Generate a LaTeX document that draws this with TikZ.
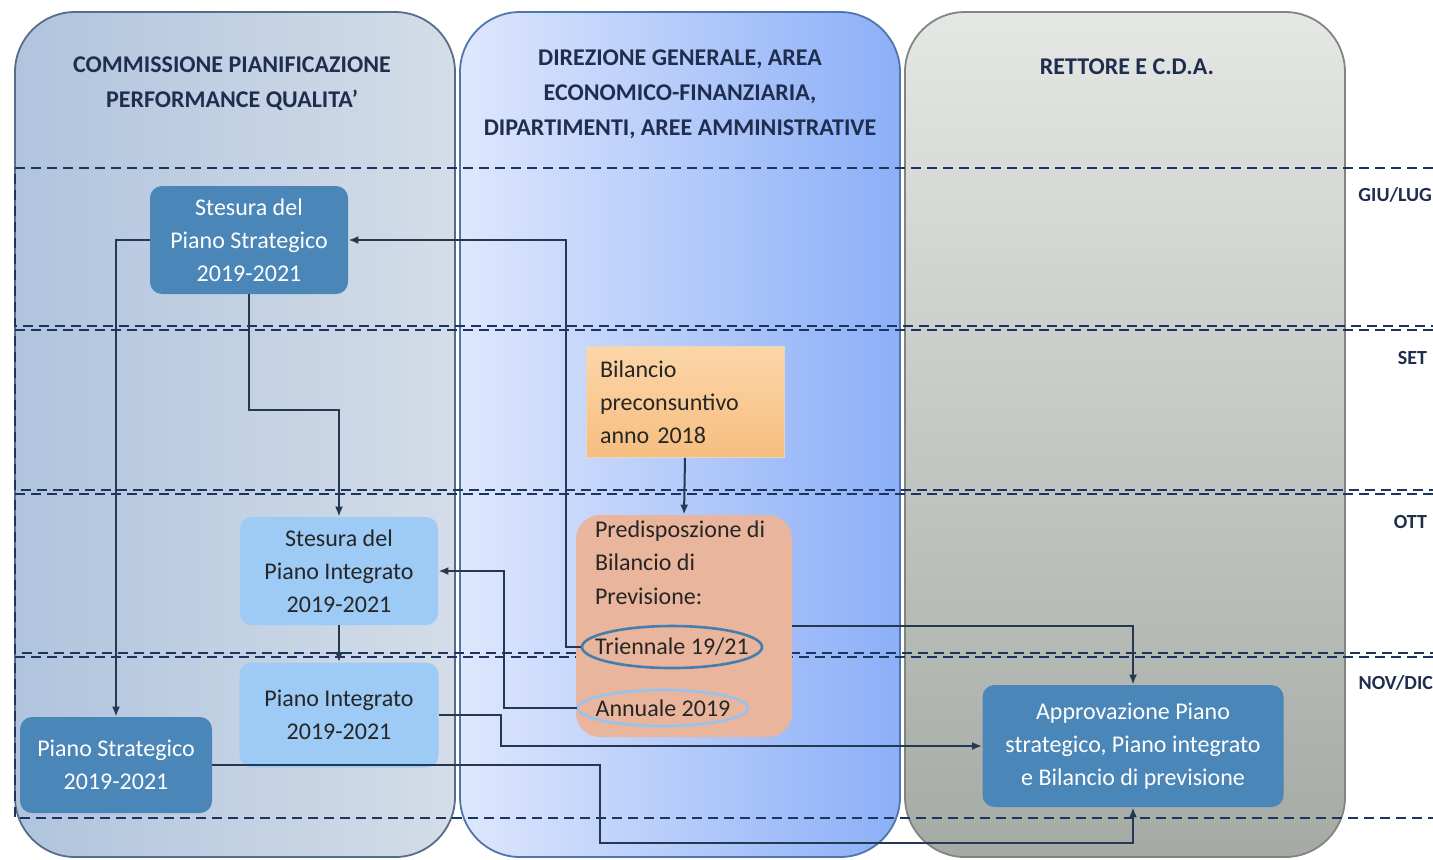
\documentclass[tikz,border=0pt]{standalone}
\usepackage{fontspec}
\setmainfont{Carlito}
\usepackage{tikz}
\usetikzlibrary{shapes,arrows.meta,positioning,calc}
\definecolor{headnavy}{RGB}{31,45,78}
\definecolor{dashnavy}{RGB}{30,52,96}
\definecolor{connnavy}{RGB}{36,56,82}
\definecolor{stratblue}{RGB}{74,134,184}
\definecolor{paleblue}{RGB}{157,203,245}
\definecolor{salmon}{RGB}{234,181,157}
\definecolor{orangetop}{RGB}{252,214,168}
\definecolor{orangebot}{RGB}{246,190,128}
\definecolor{textdark}{RGB}{38,38,38}
\definecolor{laneAleft}{RGB}{176,196,222}
\definecolor{laneAright}{RGB}{212,221,232}
\definecolor{laneBleft}{RGB}{222,231,252}
\definecolor{laneBright}{RGB}{140,175,248}
\definecolor{laneCtop}{RGB}{228,231,228}
\definecolor{laneCbot}{RGB}{165,170,165}
\newcommand{\boxfont}{\fontsize{12}{16.6}\selectfont}

\begin{document}
\begin{tikzpicture}[
    x=0.5pt, y=-0.5pt,
    lane/.style={rounded corners=30pt, line width=0.9pt},
    lanehead/.style={align=center, text=headnavy, font=\fontsize{12}{17.5}\selectfont\bfseries},
    band/.style={dash pattern=on 5pt off 3pt, line width=1pt, draw=dashnavy},
    month/.style={anchor=east, text=headnavy, font=\fontsize{10}{12}\selectfont\bfseries},
    darkbox/.style={rectangle, rounded corners=6pt, fill=stratblue, text=white, align=center, font=\boxfont},
    lightbox/.style={rectangle, rounded corners=6pt, fill=paleblue, text=textdark, align=center, font=\boxfont},
    ring/.style={ellipse, draw, line width=1.3pt, inner sep=0pt, text=textdark, font=\boxfont},
    conn/.style={draw=connnavy, line width=1pt, -{Latex[length=5pt,width=4pt]}}
]
    \useasboundingbox (0,0) rectangle (1433,859);

    % Swimlanes
    \path[lane, draw={rgb,255:red,88;green,108;blue,138}, left color=laneAleft, right color=laneAright] (15,12) rectangle (455,857);
    \path[lane, draw={rgb,255:red,78;green,118;blue,170}, left color=laneBleft, right color=laneBright] (460,12) rectangle (900,857);
    \path[lane, draw={rgb,255:red,128;green,133;blue,128}, top color=laneCtop, bottom color=laneCbot] (905,12) rectangle (1345,857);

    \node[lanehead] (headA) at (232,84) {COMMISSIONE PIANIFICAZIONE\\PERFORMANCE QUALITA'};
    \node[lanehead] (headB) at (680,94) {DIREZIONE GENERALE, AREA\\ECONOMICO-FINANZIARIA,\\DIPARTIMENTI, AREE AMMINISTRATIVE};
    \node[lanehead] (headC) at (1127,67) {RETTORE E C.D.A.};

    % Time bands
    \draw[band] (1433,168) -- (15,168) -- (15,326) -- (1433,326);
    \draw[band] (1433,330) -- (15,330) -- (15,490) -- (1433,490);
    \draw[band] (1433,494) -- (15,494) -- (15,653) -- (1433,653);
    \draw[band] (1433,657) -- (15,657) -- (15,818) -- (1433,818);

    \node[month] (giulug) at (1439,195) {GIU/LUG};
    \node[month] (set) at (1434,358) {SET};
    \node[month] (ott) at (1434,522) {OTT};
    \node[month] (novdic) at (1440,683) {NOV/DIC};

    % Commissione
    \node[darkbox, minimum width=99pt, minimum height=54pt] (sps) at (249,240) {Stesura del\\Piano Strategico\\2019-2021};
    \node[lightbox, minimum width=99pt, minimum height=54pt] (spi) at (339,571) {Stesura del\\Piano Integrato\\2019-2021};
    \node[lightbox, minimum width=99.5pt, minimum height=52.5pt] (pi) at (339,715) {Piano Integrato\\2019-2021};
    \node[darkbox, minimum width=96pt, minimum height=48pt] (ps) at (116,765) {Piano Strategico\\2019-2021};

    % Direzione generale
    \node[rectangle, draw=orangebot!80!black!40, top color=orangetop, bottom color=orangebot, text=textdark,
          align=left, font=\boxfont, text width=85pt, inner xsep=7pt, minimum height=55.5pt] (bpc) at (685,402) {Bilancio\\preconsuntivo\\anno 2018};
    \node[rectangle, rounded corners=12pt, fill=salmon, minimum width=108pt, minimum height=111pt] (pbp) at (684,626) {};
    \node[anchor=north west, align=left, font=\boxfont, text=textdark] (pbptxt) at (588,514) {Predisposzione di\\Bilancio di\\Previsione:};
    \node[ring, draw={rgb,255:red,70;green,125;blue,175}, minimum width=90pt, minimum height=21pt] (trien) at (672,647) {\makebox[0pt]{Triennale 19/21}};
    \node[ring, draw={rgb,255:red,150;green,196;blue,238}, minimum width=85pt, minimum height=18pt] (annu) at (663,708) {\makebox[0pt]{Annuale 2019}};

    % Rettore e CdA
    \node[darkbox, minimum width=150.5pt, minimum height=61pt] (app) at (1133,746) {Approvazione Piano\\strategico, Piano integrato\\e Bilancio di previsione};

    % Connectors
    \draw[conn] (trien.west) -- ++(-15,0) |- (sps.east);
    \draw[conn] (sps.south) -- ++(0,116) -| (spi.north);
    \draw[conn] (sps.west) -| (ps.north);
    \draw[conn] (spi.south) -- (pi.north);
    \draw[conn] (annu.west) -- ++(-73,0) |- (spi.east);
    \draw[conn] (bpc.south) -- (pbp.north);
    \draw[conn] (pi.east) -- ++(62,0) |- (app.west);
    \draw[conn] (pbp.east) -| (app.north);
    \draw[conn] (ps.east) -- ++(388,0) -- ++(0,78) -| (app.south);
\end{tikzpicture}
\end{document}
